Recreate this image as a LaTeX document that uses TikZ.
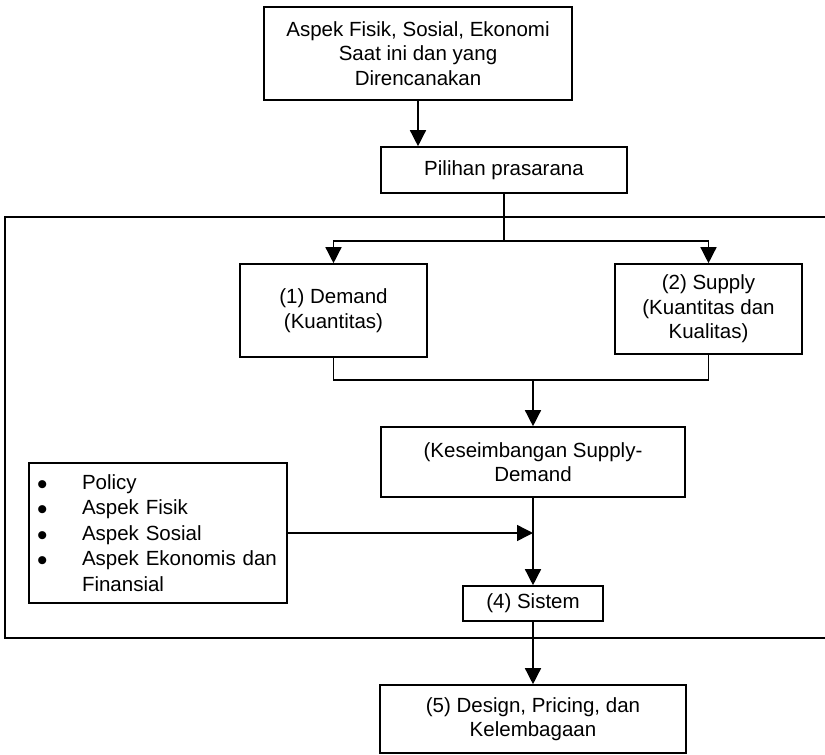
\documentclass[tikz,border=0pt]{standalone}
\usepackage{fontspec}
\setmainfont{Liberation Sans}
\usetikzlibrary{arrows.meta}
\newcommand{\blt}{\makebox[46pt][l]{\hspace{1pt}\smash{\raisebox{-4.8pt}{\scalebox{1.45}{•}}}}}
\begin{document}
\begin{tikzpicture}[x=1pt,y=-1pt,
  box/.style={draw=black,line width=1.6pt,inner sep=0pt,align=center,
    font=\fontsize{20.5}{24.5}\selectfont},
  arr/.style={line width=1.4pt,-{Triangle[length=16pt,width=16pt]}},
  conn/.style={line width=1.4pt},
  frame/.style={line width=1.3pt}]
\useasboundingbox (0,0) rectangle (825,755);
\draw[frame] (825,217) -- (5,217) -- (5,638) -- (825,638);
\node[box,minimum width=308pt,minimum height=93pt] (top) at (418,53.5)
  {Aspek Fisik, Sosial, Ekonomi\\Saat ini dan yang\\Direncanakan};
\node[box,minimum width=246pt,minimum height=46pt] (pil) at (504,170) {Pilihan prasarana};
\node[box,minimum width=187pt,minimum height=93pt] (dem) at (333.5,310.5) {(1) Demand\\(Kuantitas)};
\node[box,minimum width=187pt,minimum height=90pt] (sup) at (708.5,309) {(2) Supply\\(Kuantitas dan\\Kualitas)};
\node[box,minimum width=304pt,minimum height=70pt] (kes) at (533,462) {(Keseimbangan Supply-\\Demand};
\node[box,align=left,inner xsep=7pt,text width=244pt,minimum height=140pt,
  font=\fontsize{20.5}{25.5}\selectfont] (lst) at (158,533)
  {\blt Policy\\\blt Aspek Fisik\\\blt Aspek Sosial\\\blt Aspek Ekonomis dan\\\makebox[46pt][l]{}Finansial};
\node[box,minimum width=140pt,minimum height=35pt] (sis) at (533,603.5) {(4) Sistem};
\node[box,minimum width=306pt,minimum height=68pt] (des) at (533,719) {(5) Design, Pricing, dan\\Kelembagaan};
\coordinate (br) at (504,241);
\coordinate (mg) at (533,380);
\draw[arr] (top.south) -- (top.south |- pil.north);
\draw[conn] (pil.south) -- (br);
\draw[arr] (br) -| (dem.north);
\draw[arr] (br) -| (sup.north);
\draw[conn] (dem.south) |- (mg) -| (sup.south);
\draw[arr] (mg) -- (kes.north);
\draw[arr] (kes.south) -- (sis.north);
\draw[arr] (lst.east) -- (lst.east -| kes.south);
\draw[arr] (sis.south) -- (des.north);
\end{tikzpicture}
\end{document}
